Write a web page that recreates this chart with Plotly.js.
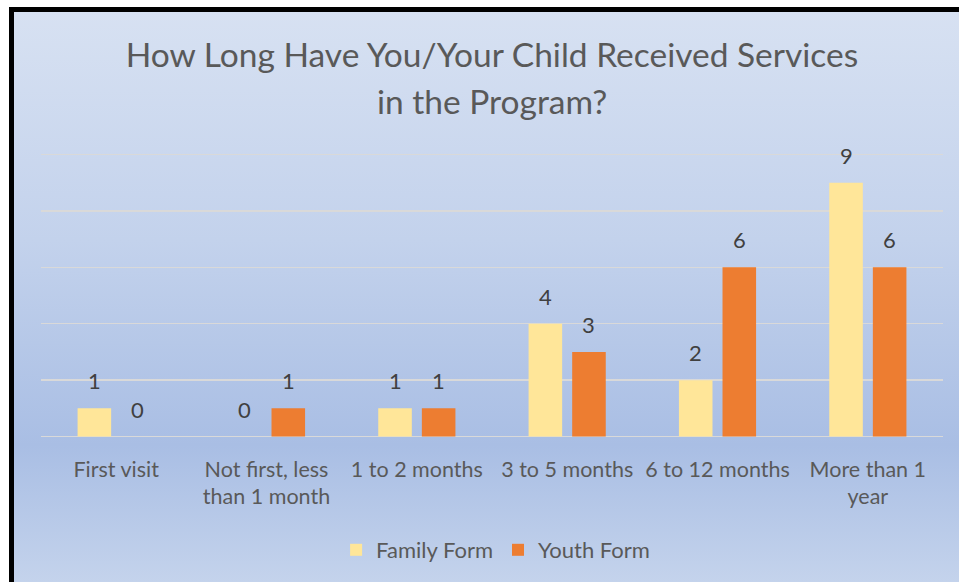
<!DOCTYPE html>
<html>
<head>
<meta charset="utf-8">
<script src="https://cdn.plot.ly/plotly-3.0.1.min.js"></script>
<style>
  html, body { margin: 0; padding: 0; background: #ffffff; }
  #frame {
    position: absolute; left: 9px; top: 7px; width: 950px; height: 575px;
    box-sizing: border-box;
    border-left: 5px solid #000000; border-top: 5px solid #000000;
    background: linear-gradient(to bottom, #D7E1F2 0%, #C3D2EC 40%, #A9BEE4 76%, #C4D3EC 100%);
  }
  #chart { position: absolute; left: 0; top: 0; width: 960px; height: 582px; }
</style>
</head>
<body>
<div id="frame"></div>
<div id="chart"></div>
<script>
const categories = ["First visit", "Not first, less<br>than 1 month", "1 to 2 months", "3 to 5 months", "6 to 12 months", "More than 1<br>year"];
const familyForm = [1, 0, 1, 4, 2, 9];
const youthForm = [0, 1, 1, 3, 6, 6];
const seriesNames = ["Family Form", "Youth Form"];
const titleLine1 = "How Long Have You/Your Child Received Services";
const titleLine2 = "in the Program?";

const FONT = "Lato, 'Open Sans', sans-serif";
const barGap = 0.42, groupGap = 0.23;
const slot = (1 - barGap) / 2;

const traces = [
  { type: "bar", name: seriesNames[0], x: categories, y: familyForm,
    marker: { color: "#FFE699" }, hoverinfo: "x+y+name" },
  { type: "bar", name: seriesNames[1], x: categories, y: youthForm,
    marker: { color: "#ED7D31" }, hoverinfo: "x+y+name" }
];

const annotations = [];
[familyForm, youthForm].forEach((vals, s) => {
  const off = (s === 0 ? -1 : 1) * slot / 2;
  vals.forEach((v, i) => {
    annotations.push({
      x: i + off, y: v, xref: "x", yref: "y", text: String(v),
      showarrow: false, yanchor: "bottom", yshift: 12,
      font: { family: FONT, size: 22, color: "#404040" }
    });
  });
});

const pad = 0.05, unit = 28.3;
const mt = 154 - pad * unit, mb = 145 - pad * unit;
const plotH = 582 - mt - mb;
annotations.push({
  text: titleLine2, xref: "paper", yref: "paper", x: 0.5, y: (582 - mb - 100) / plotH,
  yanchor: "middle", showarrow: false,
  font: { family: FONT, size: 33.5, color: "#595959" }
});

const layout = {
  width: 960, height: 582, autosize: false,
  paper_bgcolor: "rgba(0,0,0,0)", plot_bgcolor: "rgba(0,0,0,0)",
  margin: { l: 41, r: 17, t: mt, b: mb, pad: 0 },
  title: { text: titleLine1, xref: "paper", x: 0.5, xanchor: "center",
           yref: "container", y: 1 - 55 / 582, yanchor: "middle",
           font: { family: FONT, size: 33.5, color: "#595959" } },
  barmode: "group", bargap: barGap, bargroupgap: groupGap,
  xaxis: { type: "category", showgrid: false, zeroline: false, showline: false,
           ticks: "", ticklabelstandoff: 16,
           tickfont: { family: FONT, size: 21.5, color: "#595959" } },
  yaxis: { range: [-pad, 10 + pad], dtick: 2, showticklabels: false,
           zeroline: true, zerolinecolor: "#D9D9D9", zerolinewidth: 1.5,
           gridcolor: "#D9D9D9", gridwidth: 1.5, showline: false, fixedrange: true },
  legend: { orientation: "h", x: 0.504, xanchor: "center", yref: "container", y: 1 - 550 / 582, yanchor: "middle",
            font: { family: FONT, size: 22, color: "#595959" }, bgcolor: "rgba(0,0,0,0)" },
  annotations: annotations,
  showlegend: true
};

Plotly.newPlot("chart", traces, layout, { displayModeBar: false, staticPlot: true });
</script>
</body>
</html>
